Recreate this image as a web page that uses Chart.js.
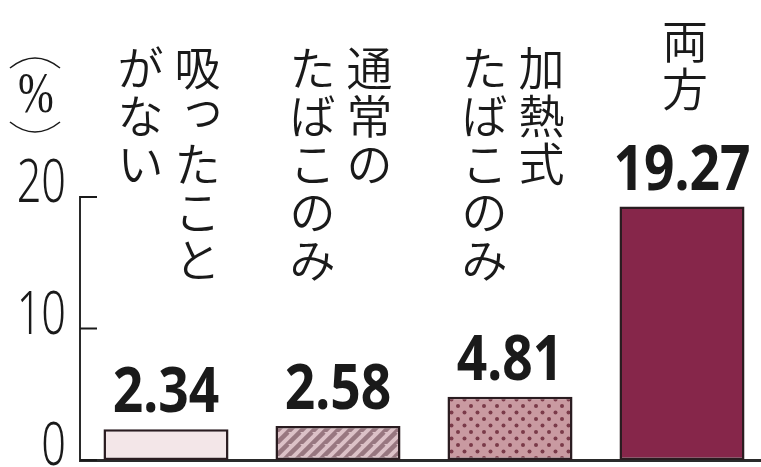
<!DOCTYPE html>
<html>
<head>
<meta charset="utf-8">
<script src="https://cdn.jsdelivr.net/npm/chart.js@4"></script>
<style>
  body { margin: 0; background: #fff; overflow: hidden; }
  #wrap { width: 768px; height: 467px; }
</style>
</head>
<body>
<div id="wrap"><canvas id="barGraph" width="768" height="467"></canvas></div>
<script>
// columns of each label, rightmost column first (vertical writing)
const categories = [['吸ったこと', 'がない'], ['通常の', 'たばこのみ'], ['加熱式', 'たばこのみ'], ['両方']];
const shares = [2.34, 2.58, 4.81, 19.27];
const yTicks = [0, 10, 20];

// PATTERNS

function hatch() {
  const c = document.createElement('canvas');
  c.width = 12; c.height = 12;
  const g = c.getContext('2d');
  g.fillStyle = '#dcc1c7';
  g.fillRect(0, 0, 12, 12);
  g.strokeStyle = '#987780';
  g.lineWidth = 4.5;
  for (let k = -12; k <= 24; k += 12) {
    g.beginPath();
    g.moveTo(k - 12, 24);
    g.lineTo(k + 12, 0);
    g.stroke();
  }
  return g.createPattern(c, 'repeat');
}

function dots() {
  const c = document.createElement('canvas');
  c.width = 13; c.height = 13;
  const g = c.getContext('2d');
  g.fillStyle = '#c99aa1';
  g.fillRect(0, 0, 13, 13);
  g.fillStyle = '#7a3a49';
  [[3, 3], [9.5, 9.5]].forEach(p => {
    g.beginPath();
    g.arc(p[0], p[1], 2, 0, Math.PI * 2);
    g.fill();
  });
  return g.createPattern(c, 'repeat');
}

// LABELS PLUGIN

const small = 'っゃゅょぁぃぅぇぉ';

const labelPlugin = {
  id: 'labels',
  afterDatasetsDraw(chart) {
    const ctx = chart.ctx;
    const meta = chart.getDatasetMeta(0);
    const yScale = chart.scales.y;
    const area = chart.chartArea;
    ctx.save();
    ctx.fillStyle = '#1a1a1a';
    ctx.strokeStyle = '#1a1a1a';

    // inward ticks + narrow tick labels
    ctx.lineWidth = 2;
    yScale.ticks.forEach(t => {
      const y = yScale.getPixelForValue(t.value);
      ctx.beginPath();
      ctx.moveTo(area.left, y);
      ctx.lineTo(area.left + 17, y);
      ctx.stroke();
      ctx.save();
      ctx.font = '300 60px "Noto Sans"';
      ctx.textAlign = 'right';
      ctx.textBaseline = 'middle';
      ctx.translate(area.left - 14, y - 12);
      ctx.scale(0.72, 1);
      ctx.fillText(String(t.value), 0, 0);
      ctx.restore();
    });

    meta.data.forEach((bar, i) => {
      // value
      ctx.save();
      ctx.font = 'bold 62px "Noto Sans"';
      ctx.textAlign = 'center';
      ctx.textBaseline = 'alphabetic';
      ctx.translate(bar.x, bar.y - 17);
      ctx.scale(0.86, 1);
      ctx.fillText(shares[i].toFixed(2), 0, 0);
      ctx.restore();

      // vertical category label
      const cols = categories[i];
      const pitch = 48;
      const valueTop = bar.y - 17 - 45;
      const longest = Math.max(...cols.map(c => c.length));
      const top = Math.min(44, valueTop - 32 - longest * pitch);
      const gap = 57;
      ctx.font = '350 46px "Noto Sans CJK JP"';
      ctx.textAlign = 'center';
      ctx.textBaseline = 'middle';
      cols.forEach((col, c) => {
        const cx = bar.x + 3 + ((cols.length - 1) / 2 - c) * gap;
        [...col].forEach((ch, k) => {
          let dx = 0, dy = 0;
          if (small.includes(ch)) { dx = 5; dy = -8; }
          ctx.fillText(ch, cx + dx, top + k * pitch + pitch / 2 + dy);
        });
      });
    });

    // unit mark
    ctx.lineWidth = 1.6;
    ctx.beginPath();
    ctx.moveTo(10, 68);
    ctx.quadraticCurveTo(35, 48, 60, 68);
    ctx.stroke();
    ctx.beginPath();
    ctx.moveTo(10, 122);
    ctx.quadraticCurveTo(35, 142, 60, 122);
    ctx.stroke();
    ctx.save();
    ctx.font = '58px "Liberation Serif"';
    ctx.textAlign = 'center';
    ctx.textBaseline = 'middle';
    ctx.translate(36, 97);
    ctx.scale(0.74, 1);
    ctx.fillText('%', 0, 0);
    ctx.restore();
    ctx.restore();
  }
};

// BAR GRAPH

const ctx = document.getElementById('barGraph').getContext('2d');
const myChart = new Chart(ctx, {
  type: 'bar',
  data: {
    labels: categories.map(c => c.join('')),
    datasets: [{
      data: shares,
      backgroundColor: ['#f3e6e8', hatch(), dots(), '#86264a'],
      borderColor: '#2a1c20',
      borderWidth: 2.5,
      borderSkipped: false,
      barPercentage: 0.727,
      categoryPercentage: 1
    }]
  },
  options: {
    responsive: false,
    animation: false,
    layout: { padding: { top: 197, bottom: 7, left: 0, right: 0 } },
    plugins: { legend: { display: false }, tooltip: { enabled: false } },
    scales: {
      x: {
        afterFit: s => { s.height = 0; },
        grid: { display: false, drawTicks: false },
        ticks: { display: false },
        border: { display: true, color: '#2a2a2a', width: 3 }
      },
      y: {
        min: 0,
        max: 20,
        afterFit: s => { s.width = 80; },
        afterBuildTicks: s => { s.ticks = yTicks.map(v => ({ value: v })); },
        grid: { display: false, drawTicks: false },
        border: { display: true, color: '#2a2a2a', width: 2 },
        ticks: { display: false }
      }
    }
  },
  plugins: [labelPlugin]
});
</script>
</body>
</html>
